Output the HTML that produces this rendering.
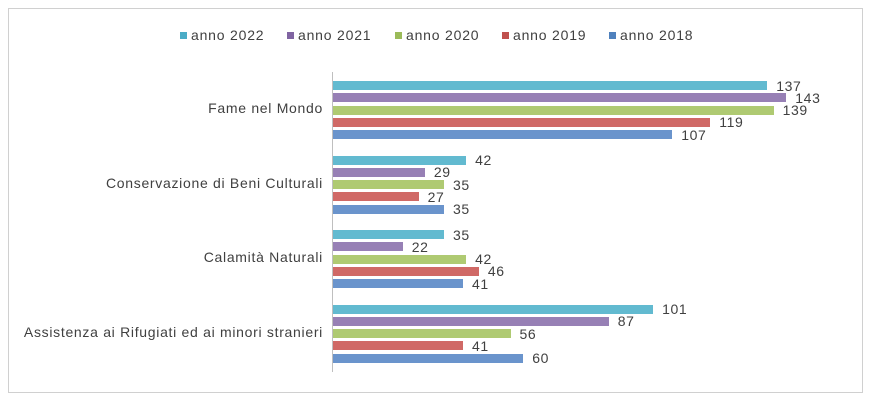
<!DOCTYPE html>
<html><head><style>
body{margin:0;background:#fff;width:869px;height:402px;position:relative;font-family:"Liberation Sans",sans-serif;overflow:hidden}
.frame{position:absolute;left:8px;top:8px;width:853px;height:383px;border:1px solid #d0d0d0}
.b{position:absolute;height:9px}
.v{position:absolute;font-size:14px;letter-spacing:0.6px;color:#404040;line-height:14px}
.c{position:absolute;right:546px;font-size:14px;letter-spacing:0.7px;color:#404040;text-align:right;white-space:nowrap}
.lg{position:absolute;top:27px;font-size:14px;letter-spacing:0.8px;color:#404040;white-space:nowrap}
.lg i{display:inline-block;width:7px;height:7px;margin-right:4px;vertical-align:1px}
</style></head><body>
<div class="frame"></div>
<div class="lg" style="left:180px"><i style="background:#4bacc6"></i>anno 2022</div>
<div class="lg" style="left:287px"><i style="background:#8064a2"></i>anno 2021</div>
<div class="lg" style="left:395px"><i style="background:#9bbb59"></i>anno 2020</div>
<div class="lg" style="left:502px"><i style="background:#c0504d"></i>anno 2019</div>
<div class="lg" style="left:609px"><i style="background:#4f81bd"></i>anno 2018</div>
<div style="position:absolute;left:332px;top:72px;width:1px;height:300px;background:#bfbfbf"></div>
<div id="g"></div>
<script>
var cols=["#62bad0","#9780b5","#afca72","#d06966","#6a94cc"];
var groups=[["Fame nel Mondo",[137,143,139,119,107]],["Conservazione di Beni Culturali",[42,29,35,27,35]],["Calamità Naturali",[35,22,42,46,41]],["Assistenza ai Rifugiati ed ai minori stranieri",[101,87,56,41,60]]];
var h="";
groups.forEach(function(g,gi){
 var top=81+gi*74.5;
 h+='<div class="c" style="top:'+(top+19)+'px">'+g[0]+'</div>';
 g[1].forEach(function(v,i){
  var y=top+i*12.3,w=v*3.17;
  h+='<div class="b" style="left:333px;top:'+y+'px;width:'+w+'px;background:'+cols[i]+'"></div>';
  h+='<div class="v" style="left:'+(333+w+9)+'px;top:'+(y-2.5)+'px">'+v+'</div>';
 });
});
document.getElementById("g").innerHTML=h;
</script>
</body></html>
